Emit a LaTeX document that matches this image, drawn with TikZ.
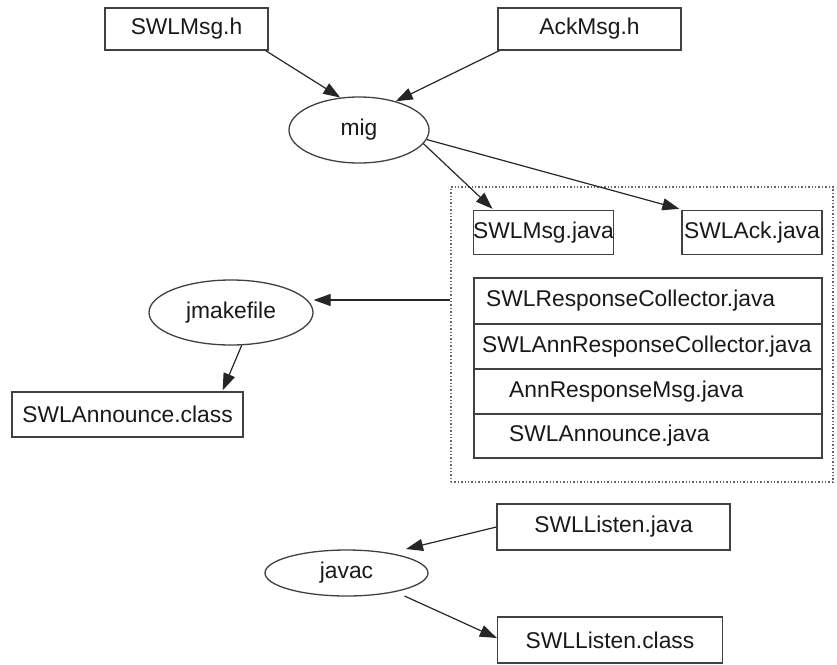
\documentclass[tikz,border=0pt]{standalone}
\usepackage{fontspec}
\setmainfont{Liberation Sans}
\usetikzlibrary{arrows.meta,shapes.geometric}
\begin{document}
\begin{tikzpicture}[x=1pt,y=-1pt,
  every node/.style={font=\fontsize{22.8}{27}\selectfont, text=black!90, inner sep=0pt},
  filebox/.style={draw=black!75, line width=1.3pt, rectangle},
  tool/.style={draw=black!75, line width=1.3pt, ellipse},
  edge/.style={draw=black!85, line width=1.2pt, -{Triangle[length=17pt,width=12pt]}},
  cluster/.style={draw=black!60, line width=1.4pt, dotted}]
\useasboundingbox (0,0) rectangle (837,664);
% top
\node[filebox, minimum width=163pt, minimum height=42pt] (swlh) at (186.5,29) {SWLMsg.h};
\node[filebox, minimum width=183pt, minimum height=42pt] (ackh) at (589.5,29) {AckMsg.h};
\node[tool, minimum width=140pt, minimum height=66pt] (mig) at (359,130) {mig};
% cluster
\node[cluster, minimum width=382pt, minimum height=295pt] (clu) at (642,334.5) {};
\node[filebox, minimum width=139pt, minimum height=44pt] (swlj) at (543.5,232.5) {SWLMsg.java};
\node[filebox, minimum width=140pt, minimum height=44pt] (swla) at (752,232.5) {SWLAck.java};
\node[filebox, minimum width=348pt, minimum height=180pt] (rec) at (648,368) {};
\draw[black!75, line width=1.3pt] (rec.west |- 0,324) -- (rec.east |- 0,324);
\draw[black!75, line width=1.3pt] (rec.west |- 0,369) -- (rec.east |- 0,369);
\draw[black!75, line width=1.3pt] (rec.west |- 0,414) -- (rec.east |- 0,414);
\node[anchor=west] (r1) at (486,301) {SWLResponseCollector.java};
\node[anchor=west] (r2) at (482,346.5) {SWLAnnResponseCollector.java};
\node[anchor=west] (r3) at (509,391.5) {AnnResponseMsg.java};
\node[anchor=west] (r4) at (509,436) {SWLAnnounce.java};
% left
\node[tool, minimum width=164pt, minimum height=65pt] (jm) at (231,312.5) {jmakefile};
\node[filebox, minimum width=231pt, minimum height=45pt] (sac) at (127.5,414.5) {SWLAnnounce.class};
% bottom
\node[filebox, minimum width=233pt, minimum height=46pt] (slj) at (613.5,527) {SWLListen.java};
\node[tool, minimum width=163pt, minimum height=46pt] (javac) at (346.5,573) {javac};
\node[filebox, minimum width=225pt, minimum height=46pt] (slc) at (610,640) {SWLListen.class};
% edges
\draw[edge] ([xshift=-3pt]swlh.south east) -- (mig.120);
\draw[edge] ([xshift=2pt]ackh.south west) -- (mig.38);
\draw[edge] (mig.-12) -- ([xshift=20pt,yshift=1pt]swlj.north west);
\draw[edge] (mig.-8) -- ([xshift=-2pt,yshift=1pt]swla.north west);
\draw[edge] (clu.west |- 0,300) -- (jm.east |- 0,300);
\draw[edge] (jm.-72) -- ([xshift=-21pt,yshift=1pt]sac.north east);
\draw[edge] (slj.west) -- ([xshift=59.5pt,yshift=24pt]javac.center);
\draw[edge] ([xshift=58pt,yshift=-23pt]javac.center) -- ([yshift=2pt]slc.west);
\end{tikzpicture}
\end{document}
